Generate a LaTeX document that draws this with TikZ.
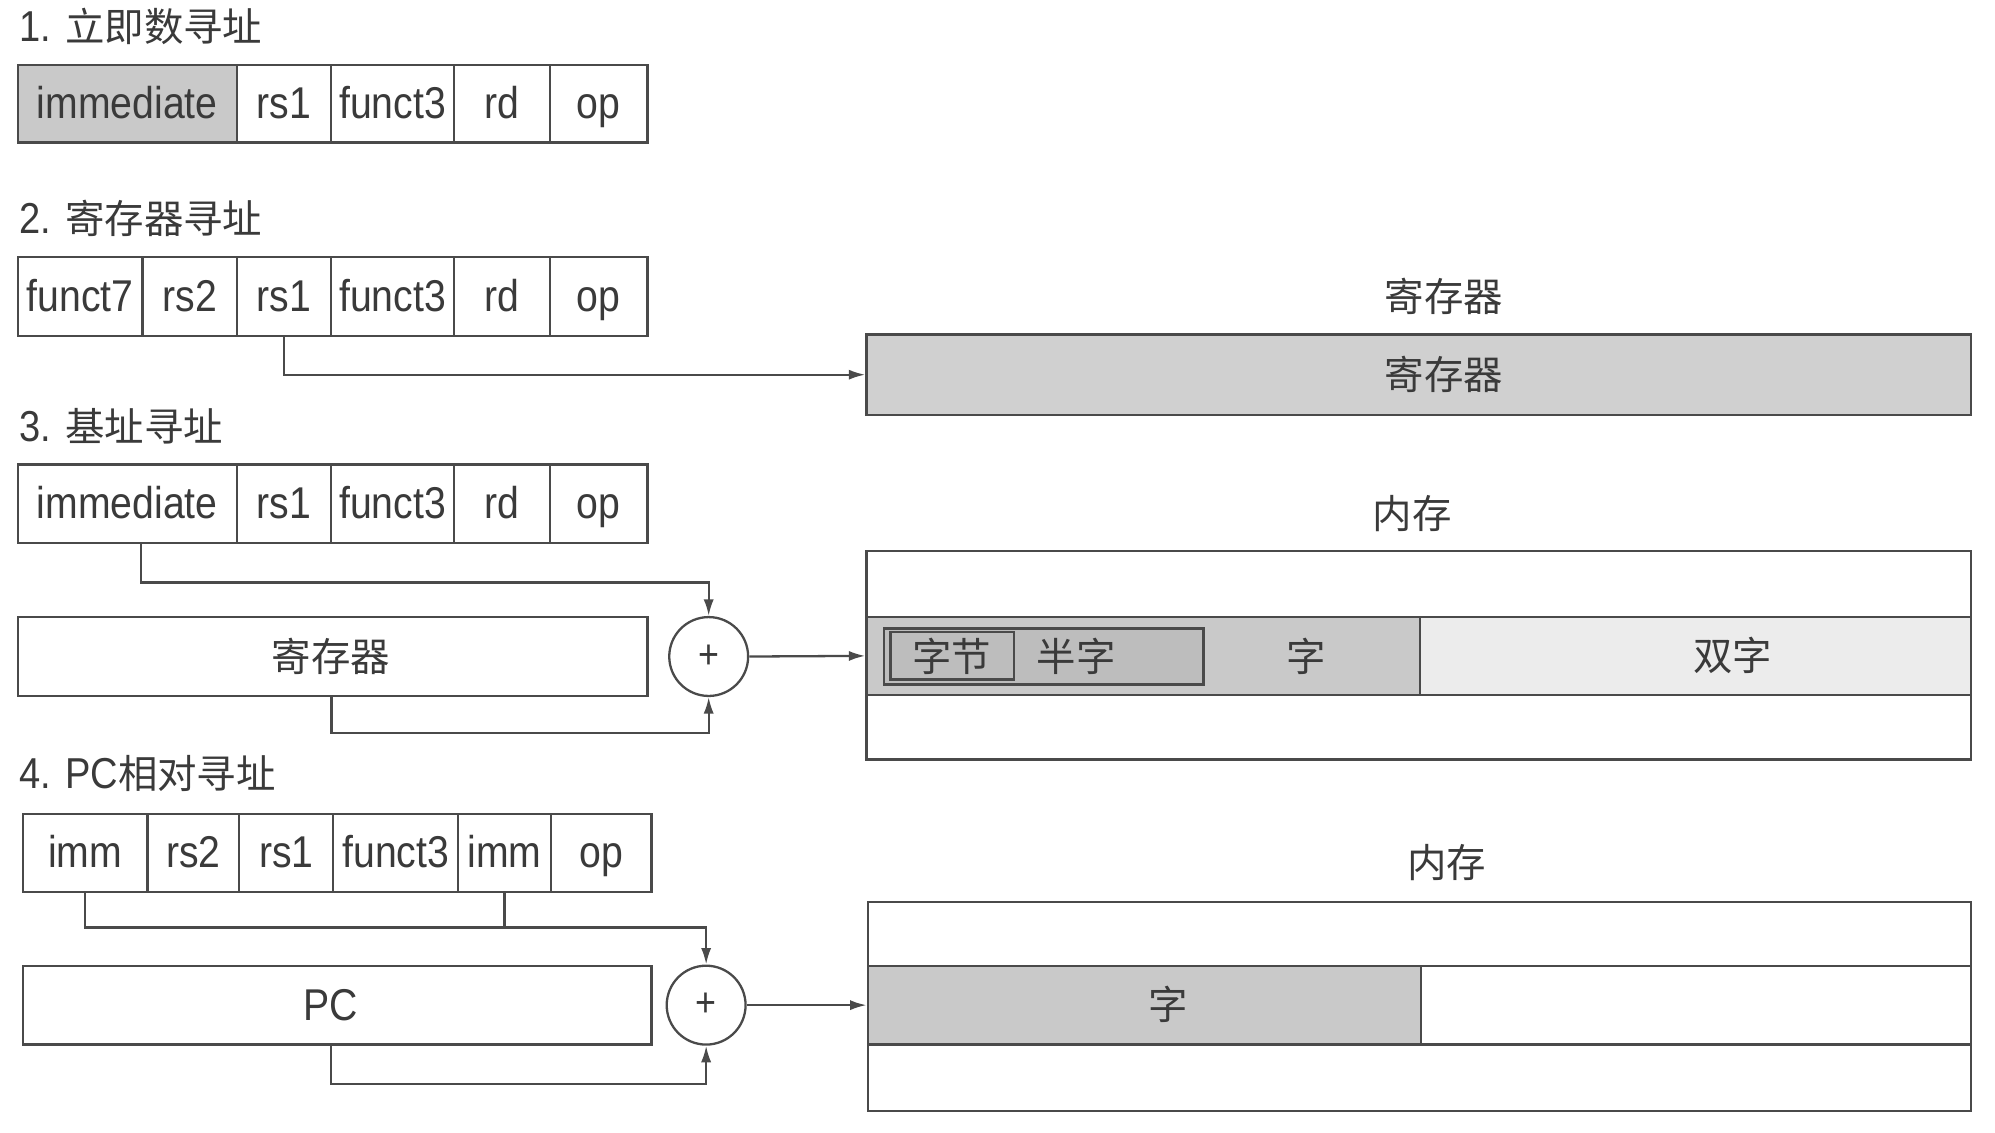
\documentclass[tikz,border=0pt]{standalone}
\usepackage{fontspec}
\setmainfont[FakeStretch=0.88]{Liberation Sans}
\newfontfamily\cjk{Noto Sans CJK SC}
\usetikzlibrary{arrows.meta}
\definecolor{ln}{HTML}{4A4A4A}
\definecolor{tx}{HTML}{3A3A3A}
\definecolor{sh}{HTML}{C9C9C9}
\definecolor{shr}{HTML}{D0D0D0}
\definecolor{shd}{HTML}{BDBDBD}
\definecolor{shl}{HTML}{ECECEC}
\newcommand\zh[1]{{\cjk\fontsize{31}{36}\selectfont #1}}
\newcommand\cellbox[7][]{\node[cell,#1,minimum width={#4-#3},minimum height={#6-#5}] (#2) at ({(#3+#4)/2},{(#5+#6)/2}) {#7};}
\begin{document}
\begin{tikzpicture}[x=1pt,y=-1pt,
  every node/.style={text=tx},
  cell/.style={draw=ln, line width=1.8pt, inner sep=0pt, text height=30pt, text depth=7pt, font=\fontsize{35}{40}\selectfont},
  cjkt/.style={font=\cjk\fontsize{31}{36}\selectfont},
  title/.style={anchor=west, inner sep=0pt, font=\fontsize{34}{40}\selectfont},
  conn/.style={draw=ln, line width=1.8pt, -{Latex[length=13pt,width=8pt]}},
  wire/.style={draw=ln, line width=1.8pt},
  adder/.style={circle, draw=ln, line width=1.8pt, minimum size=62pt, inner sep=0pt, font=\fontsize{32}{32}\selectfont}
]
\useasboundingbox[fill=white] (0,0) rectangle (1568,890);

% ---- 1. immediate
\node[title] (t1) at (15,21) {1. \zh{立即数寻址}};
\cellbox[fill=sh]{a1}{14}{186}{51}{112}{immediate}
\cellbox{b1}{186}{260}{51}{112}{rs1}
\cellbox{c1}{260}{357}{51}{112}{funct3}
\cellbox{d1}{357}{432}{51}{112}{rd}
\cellbox{e1}{432}{509}{51}{112}{op}

% ---- 2. register
\node[title] (t2) at (15,172) {2. \zh{寄存器寻址}};
\cellbox{a2}{14}{112}{202}{264}{funct7}
\cellbox{b2}{112}{186}{202}{264}{rs2}
\cellbox{c2}{186}{260}{202}{264}{rs1}
\cellbox{d2}{260}{357}{202}{264}{funct3}
\cellbox{e2}{357}{432}{202}{264}{rd}
\cellbox{f2}{432}{509}{202}{264}{op}
\node[cjkt] (reglab) at (1135,233) {寄存器};
\cellbox[fill=shr]{reg}{681}{1549}{263}{326}{}
\node[cjkt] (regt) at (1135,294) {寄存器};
\draw[conn] (c2.south) |- (reg.west);

% ---- 3. base
\node[title] (t3) at (15,335) {3. \zh{基址寻址}};
\cellbox{a3}{14}{186}{365}{427}{immediate}
\cellbox{b3}{186}{260}{365}{427}{rs1}
\cellbox{c3}{260}{357}{365}{427}{funct3}
\cellbox{d3}{357}{432}{365}{427}{rd}
\cellbox{e3}{432}{509}{365}{427}{op}
\cellbox{r3}{14}{509}{485}{547}{}
\node[cjkt] (r3t) at (260,516) {寄存器};
\node[adder] (add3) at (557,516) {+};
\node[cjkt] (memlab3) at (1110,404) {内存};
\cellbox{mem3}{681}{1549}{433}{597}{}
\cellbox[fill=sh]{word3}{681}{1116}{485}{546}{}
\cellbox[fill=shl]{dword3}{1116}{1549}{485}{546}{}
\cellbox[fill=shd]{half3}{695}{946}{494}{538}{}
\cellbox[fill=shd]{byte3}{700}{797}{499}{532}{}
\node[cjkt] (byte3t) at (748,516) {字节};
\node[cjkt] (half3t) at (846,516) {半字};
\node[cjkt] (word3t) at (1027,516) {字};
\node[cjkt] (dword3t) at (1362,515) {双字};
\draw[conn] ([xshift=11pt]a3.south) -- ++(0,30) -| (add3.north);
\draw[conn] ([xshift=-1pt]r3.south) -- ++(0,28) -| (add3.south);
\draw[conn] (add3.east) -- (word3.west);

% ---- 4. PC relative
\node[title] (t4) at (15,608) {4. PC\zh{相对寻址}};
\cellbox{a4}{18}{116}{640}{701}{imm}
\cellbox{b4}{116}{188}{640}{701}{rs2}
\cellbox{c4}{188}{262}{640}{701}{rs1}
\cellbox{d4}{262}{360}{640}{701}{funct3}
\cellbox{e4}{360}{433}{640}{701}{imm}
\cellbox{f4}{433}{512}{640}{701}{op}
\cellbox{pc}{18}{512}{759}{821}{}
\node[font=\fontsize{35}{40}\selectfont] (pct) at (260,790) {PC};
\node[adder] (add4) at (555,790) {+};
\node[cjkt] (memlab4) at (1137,678) {内存};
\cellbox{mem4}{682}{1549}{709}{873}{}
\cellbox[fill=sh]{word4}{682}{1117}{759}{821}{}
\cellbox{rest4}{1117}{1549}{759}{821}{}
\node[cjkt] (word4t) at (918,789) {字};
\draw[conn] (a4.south) -- ++(0,27) -| (add4.north);
\draw[wire] (e4.south) -- ++(0,27);
\draw[conn] ([xshift=-5pt]pc.south) -- ++(0,30) -| (add4.south);
\draw[conn] (add4.east) -- (word4.west);
\end{tikzpicture}
\end{document}
